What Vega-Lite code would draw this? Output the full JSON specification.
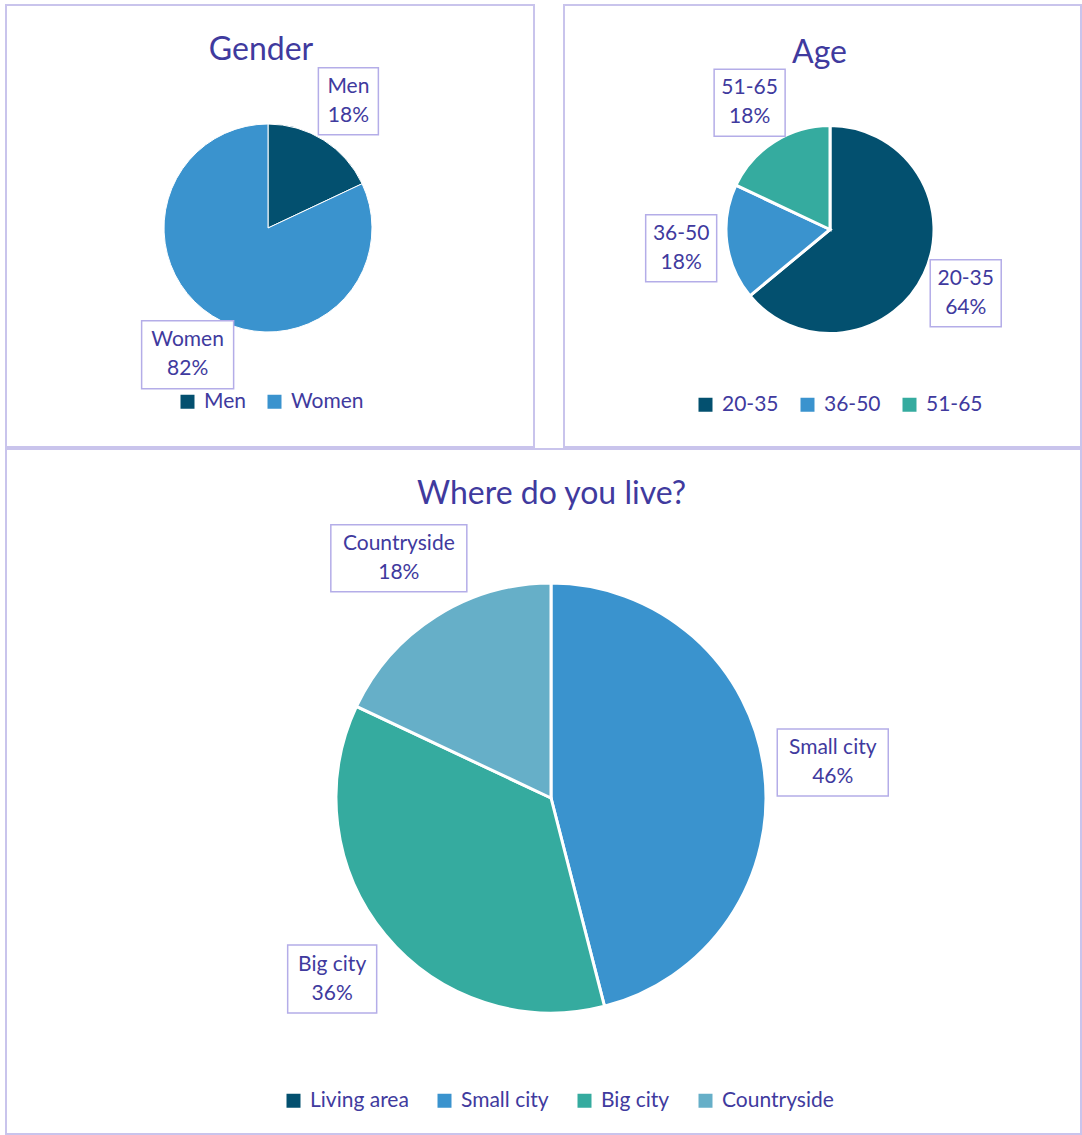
{
  "$schema": "https://vega.github.io/schema/vega-lite/v6.json",
  "padding": {"left": 5, "top": 4, "right": 0, "bottom": 0},
  "background": "#ffffff",
  "datasets": {
    "gender": [
      {"cat": "Men", "pct": 0.18},
      {"cat": "Women", "pct": 0.82}
    ],
    "age": [
      {"cat": "20-35", "pct": 0.64},
      {"cat": "36-50", "pct": 0.18},
      {"cat": "51-65", "pct": 0.18}
    ],
    "living": [
      {"cat": "Small city", "pct": 0.46},
      {"cat": "Big city", "pct": 0.36},
      {"cat": "Countryside", "pct": 0.18}
    ]
  },
  "spacing": 0,
  "resolve": {
    "scale": {"color": "independent", "theta": "independent", "x": "independent", "y": "independent", "shape": "independent"},
    "legend": {"color": "independent"}
  },
  "vconcat": [
    {
      "hconcat": [
        {
          "width": 528,
          "height": 442,
          "title": {"text": "Gender", "dx": -9, "offset": -62},
          "data": {"name": "gender"},
          "layer": [
            {
              "mark": {"type": "arc", "radius": 104, "stroke": "#ffffff", "strokeWidth": 1},
              "encoding": {
                "x": {"datum": 0, "type": "quantitative", "scale": {"domain": [-262, 266], "nice": false, "zero": false}, "axis": null},
                "y": {"datum": 0, "type": "quantitative", "scale": {"domain": [-219, 223], "nice": false, "zero": false}, "axis": null},
                "theta": {"field": "pct", "type": "quantitative", "stack": true},
                "order": {"field": "cat", "type": "ordinal", "sort": "ascending"},
                "color": {
                  "field": "cat", "type": "nominal",
                  "scale": {"domain": ["Men", "Women"], "range": ["#03506F", "#3A93CE"]},
                  "legend": {"title": null, "orient": "none", "direction": "horizontal", "legendX": 171, "legendY": 386, "symbolStrokeWidth": 0, "symbolSize": 196, "symbolType": "square"}
                }
              }
            },
            {
              "transform": [
                {"stack": "pct", "groupby": [], "sort": [{"field": "cat", "order": "ascending"}], "as": ["s0", "s1"]},
                {"calculate": "150*sin(PI*(datum.s0+datum.s1))", "as": "bx"},
                {"calculate": "150*cos(PI*(datum.s0+datum.s1))", "as": "by"}
              ],
              "mark": {"type": "point", "filled": true, "fill": "#ffffff", "stroke": "#B4ADE8", "strokeWidth": 1.5, "size": 10000, "opacity": 1},
              "encoding": {
                "x": {"field": "bx", "type": "quantitative", "scale": {"domain": [-262, 266], "nice": false, "zero": false}, "axis": null},
                "y": {"field": "by", "type": "quantitative", "scale": {"domain": [-219, 223], "nice": false, "zero": false}, "axis": null},
                "shape": {
                  "field": "cat", "type": "nominal",
                  "scale": {"domain": ["Women", "Men"], "range": ["M-0.92,-0.68H0.92V0.68H-0.92Z", "M-0.6,-0.67H0.6V0.67H-0.6Z"]},
                  "legend": null
                }
              }
            },
            {
              "mark": {"type": "text", "radius": 150, "dy": -14.5, "fontSize": 21, "font": "Lato", "color": "#403A9E", "baseline": "middle"},
              "encoding": {
                "x": {"datum": 0, "type": "quantitative"},
                "y": {"datum": 0, "type": "quantitative"},
                "theta": {"field": "pct", "type": "quantitative", "stack": true},
                "order": {"field": "cat", "type": "ordinal", "sort": "ascending"},
                "text": {"field": "cat", "type": "nominal"}
              }
            },
            {
              "mark": {"type": "text", "radius": 150, "dy": 14.5, "fontSize": 21, "font": "Lato", "color": "#403A9E", "baseline": "middle"},
              "encoding": {
                "x": {"datum": 0, "type": "quantitative"},
                "y": {"datum": 0, "type": "quantitative"},
                "theta": {"field": "pct", "type": "quantitative", "stack": true},
                "order": {"field": "cat", "type": "ordinal", "sort": "ascending"},
                "text": {"field": "pct", "type": "quantitative", "format": ".0%"}
              }
            }
          ]
        },
        {
          "width": 517,
          "height": 442,
          "title": {"text": "Age", "dx": -3, "offset": -65},
          "data": {"name": "age"},
          "layer": [
            {
              "mark": {"type": "arc", "radius": 104, "stroke": "#ffffff", "strokeWidth": 3},
              "encoding": {
                "x": {"datum": 0, "type": "quantitative", "scale": {"domain": [-266, 251], "nice": false, "zero": false}, "axis": null},
                "y": {"datum": 0, "type": "quantitative", "scale": {"domain": [-217.5, 224.5], "nice": false, "zero": false}, "axis": null},
                "theta": {"field": "pct", "type": "quantitative", "stack": true},
                "order": {"field": "cat", "type": "ordinal", "sort": "ascending"},
                "color": {
                  "field": "cat", "type": "nominal",
                  "scale": {"domain": ["20-35", "36-50", "51-65"], "range": ["#03506F", "#3A93CE", "#35AB9F"]},
                  "legend": {"title": null, "orient": "none", "direction": "horizontal", "legendX": 131, "legendY": 389, "symbolStrokeWidth": 0, "symbolSize": 196, "symbolType": "square"}
                }
              }
            },
            {
              "transform": [
                {"stack": "pct", "groupby": [], "sort": [{"field": "cat", "order": "ascending"}], "as": ["s0", "s1"]},
                {"calculate": "150*sin(PI*(datum.s0+datum.s1))", "as": "bx"},
                {"calculate": "150*cos(PI*(datum.s0+datum.s1))", "as": "by"}
              ],
              "mark": {"type": "point", "filled": true, "fill": "#ffffff", "stroke": "#B4ADE8", "strokeWidth": 1.5, "size": 10000, "opacity": 1, "shape": "M-0.71,-0.67H0.71V0.67H-0.71Z"},
              "encoding": {
                "x": {"field": "bx", "type": "quantitative", "scale": {"domain": [-266, 251], "nice": false, "zero": false}, "axis": null},
                "y": {"field": "by", "type": "quantitative", "scale": {"domain": [-217.5, 224.5], "nice": false, "zero": false}, "axis": null}
              }
            },
            {
              "mark": {"type": "text", "radius": 150, "dy": -14.5, "fontSize": 21, "font": "Lato", "color": "#403A9E", "baseline": "middle"},
              "encoding": {
                "x": {"datum": 0, "type": "quantitative"},
                "y": {"datum": 0, "type": "quantitative"},
                "theta": {"field": "pct", "type": "quantitative", "stack": true},
                "order": {"field": "cat", "type": "ordinal", "sort": "ascending"},
                "text": {"field": "cat", "type": "nominal"}
              }
            },
            {
              "mark": {"type": "text", "radius": 150, "dy": 14.5, "fontSize": 21, "font": "Lato", "color": "#403A9E", "baseline": "middle"},
              "encoding": {
                "x": {"datum": 0, "type": "quantitative"},
                "y": {"datum": 0, "type": "quantitative"},
                "theta": {"field": "pct", "type": "quantitative", "stack": true},
                "order": {"field": "cat", "type": "ordinal", "sort": "ascending"},
                "text": {"field": "pct", "type": "quantitative", "format": ".0%"}
              }
            }
          ]
        }
      ],
      "spacing": 28,
      "resolve": {
        "scale": {"color": "independent", "theta": "independent", "x": "independent", "y": "independent", "shape": "independent"},
        "legend": {"color": "independent"}
      }
    },
    {
      "width": 1075,
      "height": 685,
      "title": {"text": "Where do you live?", "dx": 8, "offset": -62},
      "data": {"name": "living"},
      "layer": [
        {
          "mark": {"type": "arc", "radius": 215, "stroke": "#ffffff", "strokeWidth": 3},
          "encoding": {
            "x": {"datum": 0, "type": "quantitative", "scale": {"domain": [-545, 530], "nice": false, "zero": false}, "axis": null},
            "y": {"datum": 0, "type": "quantitative", "scale": {"domain": [-336, 349], "nice": false, "zero": false}, "axis": null},
            "theta": {"field": "pct", "type": "quantitative", "stack": true},
            "order": {"field": "pct", "type": "quantitative", "sort": "descending"},
            "color": {
              "field": "cat", "type": "nominal",
              "scale": {"domain": ["Living area", "Small city", "Big city", "Countryside"], "range": ["#03506F", "#3A93CE", "#35AB9F", "#66AFC8"]},
              "legend": {"title": null, "orient": "none", "direction": "horizontal", "legendX": 277, "legendY": 641, "columnPadding": 25, "symbolStrokeWidth": 0, "symbolSize": 196, "symbolType": "square"}
            }
          }
        },
        {
          "transform": [
            {"stack": "pct", "groupby": [], "sort": [{"field": "pct", "order": "descending"}], "as": ["s0", "s1"]},
            {"calculate": "284*sin(PI*(datum.s0+datum.s1))", "as": "bx"},
            {"calculate": "284*cos(PI*(datum.s0+datum.s1))", "as": "by"}
          ],
          "mark": {"type": "point", "filled": true, "fill": "#ffffff", "stroke": "#B4ADE8", "strokeWidth": 1.5, "size": 10000, "opacity": 1},
          "encoding": {
            "x": {"field": "bx", "type": "quantitative", "scale": {"domain": [-545, 530], "nice": false, "zero": false}, "axis": null},
            "y": {"field": "by", "type": "quantitative", "scale": {"domain": [-336, 349], "nice": false, "zero": false}, "axis": null},
            "shape": {
              "field": "cat", "type": "nominal",
              "scale": {"domain": ["Small city", "Big city", "Countryside"], "range": ["M-1.11,-0.67H1.11V0.67H-1.11Z", "M-0.89,-0.68H0.89V0.68H-0.89Z", "M-1.36,-0.67H1.36V0.67H-1.36Z"]},
              "legend": null
            }
          }
        },
        {
          "mark": {"type": "text", "radius": 284, "dy": -14.5, "fontSize": 21, "font": "Lato", "color": "#403A9E", "baseline": "middle"},
          "encoding": {
            "x": {"datum": 0, "type": "quantitative"},
            "y": {"datum": 0, "type": "quantitative"},
            "theta": {"field": "pct", "type": "quantitative", "stack": true},
            "order": {"field": "pct", "type": "quantitative", "sort": "descending"},
            "text": {"field": "cat", "type": "nominal"}
          }
        },
        {
          "mark": {"type": "text", "radius": 284, "dy": 14.5, "fontSize": 21, "font": "Lato", "color": "#403A9E", "baseline": "middle"},
          "encoding": {
            "x": {"datum": 0, "type": "quantitative"},
            "y": {"datum": 0, "type": "quantitative"},
            "theta": {"field": "pct", "type": "quantitative", "stack": true},
            "order": {"field": "pct", "type": "quantitative", "sort": "descending"},
            "text": {"field": "pct", "type": "quantitative", "format": ".0%"}
          }
        }
      ]
    }
  ],
  "config": {
    "view": {"stroke": "#C9C4EC", "strokeWidth": 2},
    "font": "Lato",
    "title": {"font": "Lato", "fontSize": 32, "fontWeight": "normal", "color": "#403A9E", "baseline": "alphabetic", "anchor": "middle", "frame": "group"},
    "legend": {
      "symbolType": "square",
      "symbolSize": 196,
      "symbolStrokeWidth": 0,
      "symbolOpacity": 1,
      "labelFont": "Lato",
      "labelFontSize": 21,
      "labelColor": "#403A9E",
      "columnPadding": 18,
      "labelOffset": 6,
      "padding": 0
    }
  }
}
